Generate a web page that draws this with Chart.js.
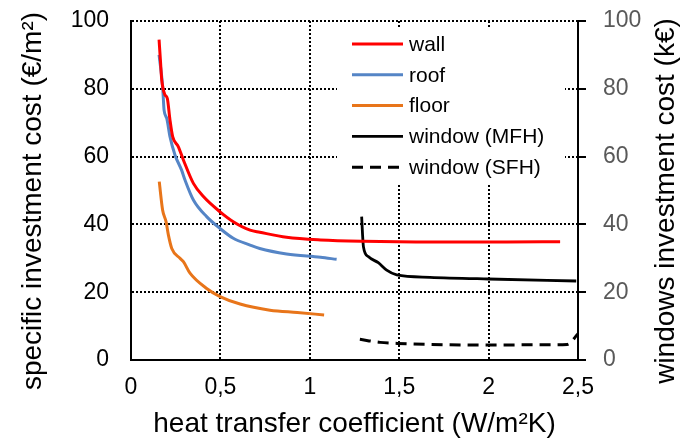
<!DOCTYPE html>
<html>
<head>
<meta charset="utf-8">
<script src="https://cdn.jsdelivr.net/npm/chart.js@4"></script>
<style>
    html, body { margin: 0; padding: 0; background: #fff; }
</style>
</head>
<body>
<canvas id="graphique" width="683" height="439"></canvas>
<script>
document.addEventListener('DOMContentLoaded', function () {
    const canvas = document.getElementById('graphique');

    // heat transfer coefficient (W/m2K) and cost per series
    const wallU = [0.157, 0.165, 0.172, 0.19, 0.203, 0.218, 0.233, 0.265, 0.293, 0.349, 0.405, 0.498, 0.572, 0.666, 0.72, 0.87, 1.06, 1.3, 1.7, 2.1, 2.4];
    const wallCost = [94.5, 88, 82.6, 78.2, 77.2, 70.8, 65.9, 62.9, 59, 52.1, 48.2, 43.7, 40.8, 38.3, 37.7, 36.2, 35.4, 35.0, 34.8, 34.8, 34.9];

    const roofU = [0.157, 0.177, 0.185, 0.2, 0.218, 0.246, 0.283, 0.302, 0.349, 0.423, 0.498, 0.572, 0.666, 0.72, 0.87, 1.06, 1.15];
    const roofCost = [90, 80.6, 73.7, 71.3, 65.9, 60.5, 56, 53.1, 47.2, 42.3, 38.8, 35.9, 33.9, 32.9, 31.3, 30.3, 29.7];

    const floorU = [0.158, 0.177, 0.196, 0.209, 0.228, 0.274, 0.293, 0.33, 0.423, 0.498, 0.61, 0.777, 0.93, 1.08];
    const floorCost = [52.6, 44.2, 40.8, 36.9, 32.9, 30, 29, 25.6, 21.1, 18.7, 16.5, 14.7, 14.0, 13.3];

    const mfhU = [1.29, 1.295, 1.30, 1.327, 1.383, 1.43, 1.486, 1.672, 2.0, 2.49];
    const mfhCost = [42.3, 37, 33.4, 30.5, 28.7, 26.5, 25.1, 24.4, 23.9, 23.3];

    const sfhU = [1.28, 1.393, 1.486, 1.672, 2.01, 2.3, 2.44, 2.5];
    const sfhCost = [6.1, 5.2, 4.9, 4.6, 4.4, 4.5, 4.6, 7.7];

    const xTicks = [0, 0.5, 1, 1.5, 2, 2.5];
    const yTicks = [0, 20, 40, 60, 80, 100];

    const seriesNames = ['wall', 'roof', 'floor', 'window (MFH)', 'window (SFH)'];

    function points(xs, ys) {
        return xs.map((x, i) => ({ x: x, y: ys[i] }));
    }

    const police = 'Liberation Sans, Arial, sans-serif';

    // titres des axes (le titre de droite se lit de bas en haut)
    const axisTitles = {
        id: 'axisTitles',
        afterDraw(chart) {
            const ctx = chart.ctx;
            const area = chart.chartArea;
            ctx.save();
            ctx.fillStyle = '#000';
            ctx.font = '28px ' + police;
            ctx.textAlign = 'center';
            ctx.textBaseline = 'middle';
            ctx.fillText('heat transfer coefficient (W/m\u00b2K)', (area.left + area.right) / 2, 424);

            ctx.save();
            ctx.translate(33, 201);
            ctx.rotate(-Math.PI / 2);
            ctx.fillText('specific investment cost (\u20ac/m\u00b2)', 0, 0);
            ctx.restore();

            ctx.save();
            ctx.translate(666, 201);
            ctx.rotate(-Math.PI / 2);
            ctx.fillText('windows investment cost (k\u20ac)', 0, 0);
            ctx.restore();
            ctx.restore();
        }
    };

    // légende dans la zone du graphique
    const legendBox = {
        id: 'legendBox',
        afterDatasetsDraw(chart) {
            const ctx = chart.ctx;
            const area = chart.chartArea;
            const left = area.right - 241;
            const top = area.top + 7;
            ctx.save();
            ctx.fillStyle = '#fff';
            ctx.fillRect(left, top, 228, 155);
            ctx.font = '21px ' + police;
            ctx.textBaseline = 'middle';
            ctx.textAlign = 'left';
            chart.data.datasets.forEach((ds, i) => {
                const y = area.top + 23 + i * 30.8;
                ctx.strokeStyle = ds.borderColor;
                ctx.lineWidth = ds.borderWidth;
                ctx.setLineDash(ds.borderDash || []);
                ctx.beginPath();
                ctx.moveTo(area.right - 226, y);
                ctx.lineTo(area.right - 175, y);
                ctx.stroke();
                ctx.setLineDash([]);
                ctx.fillStyle = '#000';
                ctx.fillText(ds.label, area.right - 169, y + 1);
            });
            ctx.restore();
        }
    };

    const commonLine = {
        pointRadius: 0,
        fill: false,
        cubicInterpolationMode: 'monotone'
    };

    // pas de marge automatique autour des étiquettes
    function noPadding(scale) {
        scale.paddingTop = 0;
        scale.paddingBottom = 0;
        scale.paddingLeft = 0;
        scale.paddingRight = 0;
    }

    new Chart(canvas.getContext('2d'), {
        type: 'line',
        data: {
            datasets: [{
                ...commonLine,
                label: seriesNames[0],
                data: points(wallU, wallCost),
                borderColor: '#ff0000',
                borderWidth: 3,
                yAxisID: 'y'
            }, {
                ...commonLine,
                label: seriesNames[1],
                data: points(roofU, roofCost),
                borderColor: '#5585c6',
                borderWidth: 3,
                yAxisID: 'y'
            }, {
                ...commonLine,
                label: seriesNames[2],
                data: points(floorU, floorCost),
                borderColor: '#e8751a',
                borderWidth: 3,
                yAxisID: 'y'
            }, {
                ...commonLine,
                label: seriesNames[3],
                data: points(mfhU, mfhCost),
                borderColor: '#000000',
                borderWidth: 2.8,
                yAxisID: 'y2'
            }, {
                ...commonLine,
                label: seriesNames[4],
                data: points(sfhU, sfhCost),
                borderColor: '#000000',
                borderWidth: 3,
                borderDash: [11, 7],
                yAxisID: 'y2'
            }]
        },
        options: {
            responsive: false,
            animation: false,
            layout: { padding: { top: 21, left: 0, right: 0, bottom: 0 } },
            plugins: {
                legend: { display: false },
                tooltip: { enabled: false }
            },
            scales: {
                x: {
                    type: 'linear',
                    min: 0,
                    max: 2.5,
                    afterBuildTicks: (scale) => { scale.ticks = xTicks.map(v => ({ value: v })); },
                    afterFit: (scale) => { scale.height = 79; noPadding(scale); },
                    ticks: {
                        color: '#000',
                        font: { family: police, size: 23 },
                        padding: 14,
                        maxRotation: 0,
                        callback: (v) => String(v).replace('.', ',')
                    },
                    grid: { color: '#000', lineWidth: 2, drawTicks: false },
                    border: { color: '#000', width: 2, dash: [2, 2] }
                },
                y: {
                    position: 'left',
                    min: 0,
                    max: 100,
                    afterBuildTicks: (scale) => { scale.ticks = yTicks.map(v => ({ value: v })); },
                    afterFit: (scale) => { scale.width = 131; noPadding(scale); },
                    ticks: {
                        color: '#000',
                        font: { family: police, size: 23 },
                        padding: 22
                    },
                    grid: { color: '#000', lineWidth: 2, drawTicks: false },
                    border: { color: '#000', width: 2, dash: [2, 2] }
                },
                y2: {
                    position: 'right',
                    min: 0,
                    max: 100,
                    afterBuildTicks: (scale) => { scale.ticks = yTicks.map(v => ({ value: v })); },
                    afterFit: (scale) => { scale.width = 105; noPadding(scale); },
                    ticks: {
                        color: '#595959',
                        font: { family: police, size: 23 },
                        padding: 17
                    },
                    grid: {
                        drawOnChartArea: false,
                        drawTicks: true,
                        tickLength: 8,
                        tickColor: '#000',
                        tickWidth: 2,
                        color: '#000',
                        lineWidth: 2
                    },
                    border: { color: '#000', width: 2 }
                }
            }
        },
        plugins: [axisTitles, legendBox]
    });
});
</script>
</body>
</html>
